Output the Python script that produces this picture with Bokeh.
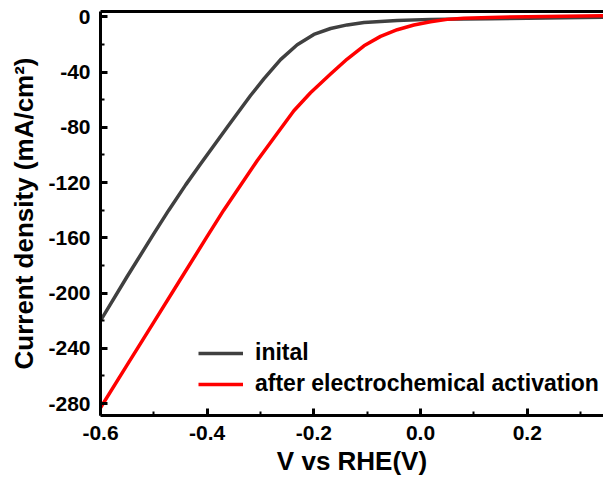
from bokeh.plotting import figure
from bokeh.models import LinearAxis, FixedTicker, Range1d, Legend, LegendItem
from bokeh.embed import file_html
from bokeh.resources import INLINE

# Data
initial_v = [-0.6, -0.55, -0.5, -0.472, -0.44, -0.4125, -0.3625, -0.3187, -0.2938,
             -0.2625, -0.2312, -0.2, -0.1687, -0.1375, -0.106, -0.0437, 0.0187,
             0.081, 0.131, 0.2, 0.27, 0.343]
initial_i = [-220, -188, -157, -140, -121.5, -106.5, -80, -57, -45,
             -31, -20.3, -12.8, -8.5, -5.9, -4.1, -2.7, -1.9,
             -1.6, -1.4, -1.0, -0.7, -0.4]

activated_v = [-0.6, -0.55, -0.5, -0.45, -0.4, -0.369, -0.306, -0.2375, -0.2063,
               -0.1687, -0.1375, -0.106, -0.075, -0.0437, -0.0125, 0.0187, 0.05,
               0.081, 0.131, 0.2, 0.27, 0.343]
activated_i = [-283, -252, -221, -190, -159, -140, -104, -68, -55,
               -41.5, -30.6, -21, -14.2, -9.4, -6.0, -3.6, -1.9,
               -1.0, -0.5, 0.0, 0.4, 0.8]

x_ticks = [-0.6, -0.4, -0.2, 0.0, 0.2]
x_tick_labels = ["-0.6", "-0.4", "-0.2", "0.0", "0.2"]
x_minor = [-0.5, -0.3, -0.1, 0.1, 0.3]
y_ticks = [0, -40, -80, -120, -160, -200, -240, -280]
y_tick_labels = ["0", "-40", "-80", "-120", "-160", "-200", "-240", "-280"]
y_minor = [-20, -60, -100, -140, -180, -220, -260]

FONT = "Liberation Sans"

p = figure(width=603, height=482, output_backend="svg", toolbar_location=None,
           x_range=Range1d(-0.6, 0.343), y_range=Range1d(-288.6, 3.8),
           min_border_left=100, min_border_right=0, min_border_top=11,
           min_border_bottom=67, x_axis_location=None, y_axis_location=None)
p.outline_line_color = None
p.grid.visible = False
p.background_fill_color = "white"
p.border_fill_color = "white"

def style_axis(ax, major, labels, minor, label):
    ax.ticker = FixedTicker(ticks=major, minor_ticks=minor)
    ax.major_label_overrides = {t: s for t, s in zip(major, labels)}
    ax.axis_label = label
    ax.axis_line_width = 3
    ax.axis_line_color = "black"
    ax.major_tick_in = 7
    ax.major_tick_out = 0
    ax.minor_tick_in = 4
    ax.minor_tick_out = 0
    ax.major_tick_line_width = 3
    ax.minor_tick_line_width = 2
    ax.major_label_text_font = FONT
    ax.major_label_text_font_style = "bold"
    ax.major_label_text_font_size = "21px"
    ax.major_label_text_color = "black"
    ax.axis_label_text_font = FONT
    ax.axis_label_text_font_style = "bold"
    ax.axis_label_text_font_size = "26px"
    ax.axis_label_text_color = "black"

xax = LinearAxis()
style_axis(xax, x_ticks, x_tick_labels, x_minor, "V vs RHE(V)")
xax.major_label_standoff = 10
xax.axis_label_standoff = 3
p.add_layout(xax, "below")

yax = LinearAxis()
style_axis(yax, y_ticks, y_tick_labels, y_minor, "Current density (mA/cm\u00b2)")
yax.major_label_standoff = 10
yax.axis_label_standoff = 6
p.add_layout(yax, "left")

top = LinearAxis(ticker=FixedTicker(ticks=[]), major_label_text_font_size="0px")
top.axis_line_width = 3
top.major_tick_in = 0
top.major_tick_out = 0
top.minor_tick_in = 0
top.minor_tick_out = 0
p.add_layout(top, "above")

r1 = p.line(initial_v, initial_i, line_color="#404040", line_width=3.5,
            line_join="round")
r2 = p.line(activated_v, activated_i, line_color="#ff0000", line_width=3.5,
            line_join="round")

legend = Legend(items=[LegendItem(label="inital", renderers=[r1]),
                       LegendItem(label="after electrochemical activation", renderers=[r2])],
                location=(98, 18), orientation="vertical")
legend.background_fill_alpha = 0
legend.border_line_color = None
legend.padding = 0
legend.margin = 0
legend.spacing = 4
legend.glyph_width = 45
legend.glyph_height = 24
legend.label_standoff = 12
legend.label_text_font = FONT
legend.label_text_font_style = "bold"
legend.label_text_font_size = "23px"
legend.label_text_color = "black"
p.add_layout(legend, "center")

open("out.html", "w").write(file_html(p, INLINE))
